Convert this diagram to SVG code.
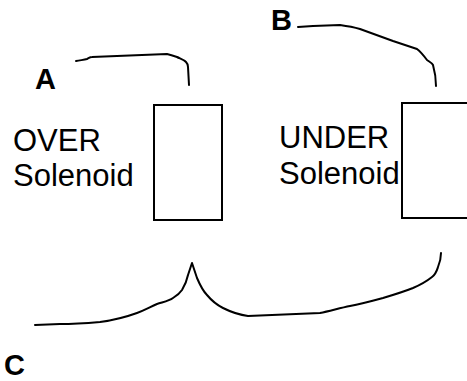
<svg xmlns="http://www.w3.org/2000/svg" width="467" height="381" viewBox="0 0 467 381">
<style>
.lbl{font-family:"Liberation Sans",Arial,sans-serif;font-size:31px;fill:#000}
.bold{font-family:"Liberation Sans",Arial,sans-serif;font-size:29px;font-weight:bold;fill:#000}
.box{fill:#fff;stroke:#000;stroke-width:2}
.wire{fill:none;stroke:#000;stroke-width:2;stroke-linecap:round;stroke-linejoin:round}
</style>
<rect width="467" height="381" fill="#fff"/>
<g id="connectors">
<path class="wire" d="M76,61 C81,60 84,60 87,59 C89,58 90,57 92,57 L167,54 C171,55 174,56 177,57 C181,59 184,60 186,62 C188,64 188,65 188,67 L189,85"/>
<path class="wire" d="M298,27 L313,26 L340,25 C347,26 353,27 360,29 L393,41 L417,49 C421,52 424,56 427,60 C430,62 432,63 433,65 C435,72 436,78 436,86"/>
<path class="wire" d="M35,325 L60,324 C75,324 88,323 100,322 C115,320 126,317 137,313 C145,310 150,307 157,304 C163,302 169,301 173,298 C178,295 180,293 182,290 C185,285 187,280 188,275 L192,263 L197,278 C200,285 203,291 207,295 C212,301 217,305 223,308 C231,312 240,315 248,316 L320,313 C330,311 340,308 350,306 C361,304 372,301 383,298 C393,295 403,292 413,288 C420,285 427,281 432,277 C436,274 437,270 438,267 C440,262 441,257 441,253"/>
</g>
<g id="label-A"><text class="bold" x="35" y="89">A</text></g>
<g id="label-B"><text class="bold" x="271" y="30">B</text></g>
<g id="label-C"><text class="bold" x="4" y="375">C</text></g>
<g id="over-solenoid">
<rect class="box" x="154" y="105" width="68" height="115"/>
<text class="lbl" x="13" y="151">OVER</text>
<text class="lbl" x="13" y="186">Solenoid</text>
</g>
<g id="under-solenoid">
<rect class="box" x="402" y="103" width="80" height="115"/>
<text class="lbl" x="279" y="148">UNDER</text>
<text class="lbl" x="279" y="184">Solenoid</text>
</g>
</svg>
